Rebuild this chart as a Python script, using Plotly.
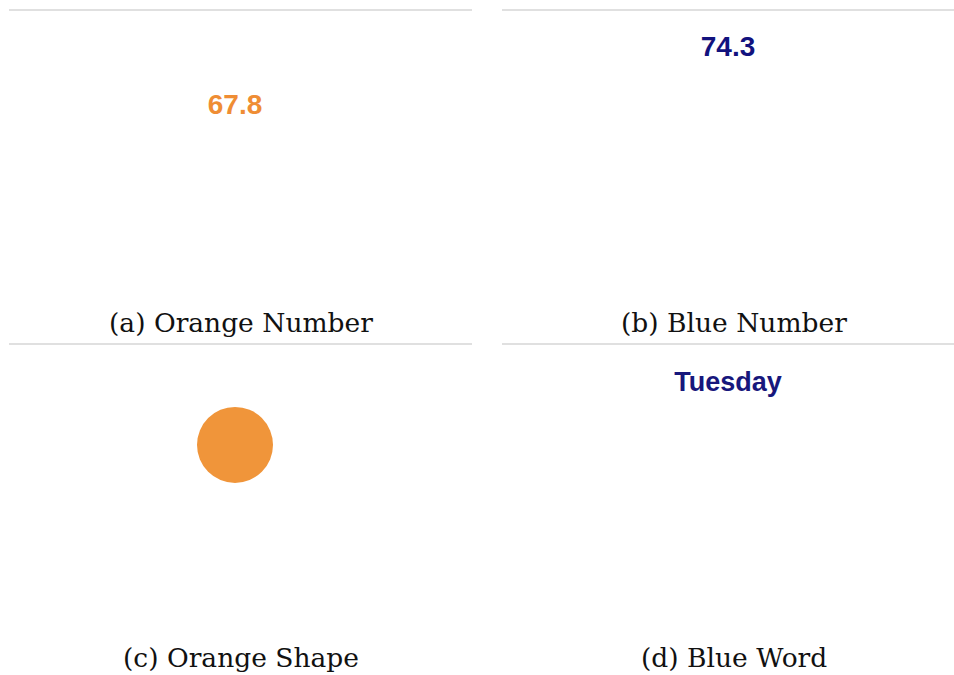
import plotly.graph_objects as go

# ---- data ----
panel_labels = ["(a) Orange Number", "(b) Blue Number", "(c) Orange Shape", "(d) Blue Word"]
panel_texts = ["67.8", "74.3", "", "Tuesday"]
panel_kinds = ["text", "text", "shape", "text"]
panel_colors = ["#EF8D34", "#12127E", "#F0953A", "#17177C"]

# ---- layout (pixel geometry of the figure) ----
W, H = 954, 675
panel_x = [(9, 461), (502, 954), (9, 461), (502, 954)]        # content area
line_x = [(9, 472), (502, 954), (9, 472), (502, 954)]
panel_top = [10, 10, 344, 344]
panel_h = 290
mark_frac = [0.335, 0.135, 0.348, 0.138]                       # vertical position inside panel
text_sizes = [28, 28, 0, 27]
caption_cx = [241, 734, 241, 734]
caption_cy = [322, 322, 657, 657]

fig = go.Figure()
shapes, annotations = [], []
for i in range(4):
    ax = "" if i == 0 else str(i + 1)
    x0, x1 = panel_x[i]
    top = panel_top[i]
    fig.update_layout(**{
        f"xaxis{ax}": dict(domain=[x0 / W, x1 / W], range=[0, 1], visible=False, fixedrange=True),
        f"yaxis{ax}": dict(domain=[1 - (top + panel_h) / H, 1 - top / H], range=[1, 0],
                           visible=False, fixedrange=True),
    })
    if panel_kinds[i] == "text":
        fig.add_trace(go.Scatter(
            x=[0.5], y=[mark_frac[i]], mode="text", text=[panel_texts[i]],
            textposition="middle center",
            textfont=dict(family="Liberation Sans, Arial, sans-serif", size=text_sizes[i],
                          color=panel_colors[i], weight="bold"),
            xaxis=f"x{ax}", yaxis=f"y{ax}", hoverinfo="skip", showlegend=False))
    else:
        fig.add_trace(go.Scatter(
            x=[0.5], y=[mark_frac[i]], mode="markers",
            marker=dict(size=76, color=panel_colors[i], line=dict(width=0)),
            xaxis=f"x{ax}", yaxis=f"y{ax}", hoverinfo="skip", showlegend=False))
    lx0, lx1 = line_x[i]
    shapes.append(dict(type="line", xref="paper", yref="paper",
                       x0=lx0 / W, x1=lx1 / W, y0=1 - top / H, y1=1 - top / H,
                       line=dict(color="#d6d6d6", width=1.5)))
    annotations.append(dict(text=panel_labels[i], xref="paper", yref="paper",
                            x=caption_cx[i] / W, y=1 - caption_cy[i] / H,
                            xanchor="center", yanchor="middle", showarrow=False,
                            font=dict(family="DejaVu Serif, serif", size=26.5, color="#111111")))

fig.update_layout(width=W, height=H, margin=dict(l=0, r=0, t=0, b=0),
                  paper_bgcolor="white", plot_bgcolor="white",
                  shapes=shapes, annotations=annotations)
fig.write_html("out.html", config={"displayModeBar": False, "staticPlot": True},
               post_script="document.body.style.margin='0';document.body.style.padding='0';")
